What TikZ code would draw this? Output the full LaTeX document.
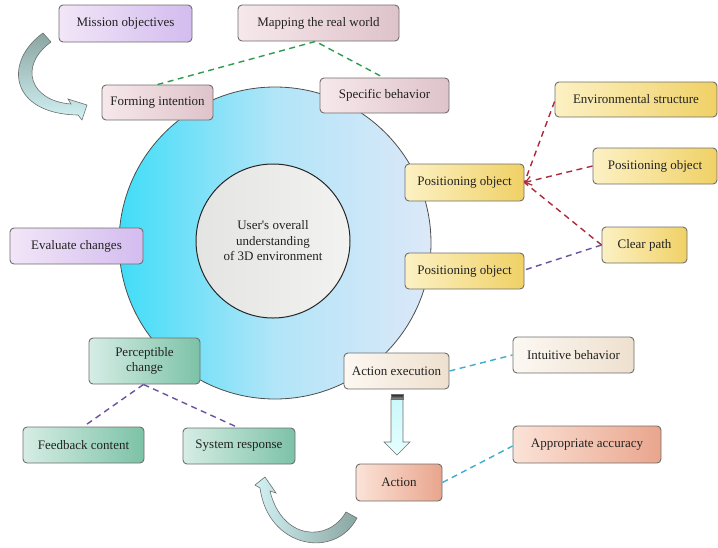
\documentclass[tikz,border=0pt]{standalone}
\usepackage{fontspec}
\setmainfont{Liberation Serif}
\usetikzlibrary{arrows.meta,calc}
\definecolor{boxline}{HTML}{6E6E6E}
\definecolor{purpL}{HTML}{F2E6F7}
\definecolor{purpR}{HTML}{D3BCEF}
\definecolor{pinkL}{HTML}{F6E8EB}
\definecolor{pinkR}{HTML}{DEC3CA}
\definecolor{yelL}{HTML}{FCF1C4}
\definecolor{yelR}{HTML}{F0D166}
\definecolor{grnL}{HTML}{D6EDE5}
\definecolor{grnR}{HTML}{7CC2A7}
\definecolor{creL}{HTML}{FCF8F2}
\definecolor{creR}{HTML}{EEE0CE}
\definecolor{salL}{HTML}{FBE3D8}
\definecolor{salR}{HTML}{E9A58C}
\definecolor{cirL}{HTML}{40DDF8}
\definecolor{cirM}{HTML}{B2E5F8}
\definecolor{cirR}{HTML}{DCE8F8}
\definecolor{inL}{HTML}{E4E4E2}
\definecolor{inR}{HTML}{F2F2F0}
\definecolor{arrG}{HTML}{8AA6A2}
\definecolor{arrC}{HTML}{D2F1F3}
\definecolor{lnGreen}{HTML}{2E9B4F}
\definecolor{lnRed}{HTML}{B0283A}
\definecolor{lnPurp}{HTML}{6C51A0}
\definecolor{lnCyan}{HTML}{3AAECC}
\definecolor{txt}{HTML}{222222}
\tikzset{
  box/.style={draw=boxline, rounded corners=4pt, line width=0.9pt, inner sep=0pt,
    align=center, font=\fontsize{13}{15.5}\selectfont, text=txt},
  purpbox/.style={box, left color=purpL, right color=purpR},
  pinkbox/.style={box, left color=pinkL, right color=pinkR},
  yelbox/.style={box, left color=yelL, right color=yelR},
  grnbox/.style={box, left color=grnL, right color=grnR},
  crebox/.style={box, left color=creL, right color=creR},
  salbox/.style={box, left color=salL, right color=salR},
  link/.style={line width=1.4pt, dash pattern=on 6pt off 4.5pt},
  curvarrow/.style={draw=boxline, line width=0.6pt},
}
\begin{document}
\begin{tikzpicture}[x=1pt,y=-1pt]
\useasboundingbox (0,0) rectangle (718,547);
% circles
\node[circle, draw=black!70, line width=0.8pt, minimum size=312pt, inner sep=0pt,
  left color=cirL, right color=cirR, middle color=cirM] (outer) at (275,243) {};
\node[circle, draw=black!85, line width=1pt, minimum size=154pt, inner sep=0pt,
  left color=inL, right color=inR, align=center, font=\fontsize{13}{15.5}\selectfont, text=txt]
  (core) at (273,241) {User\textquotesingle s overall\\understanding\\of 3D environment};
% boxes
\node[purpbox, minimum width=133pt, minimum height=37pt] (mission) at (125.5,23.5) {Mission objectives};
\node[pinkbox, minimum width=161pt, minimum height=36pt] (mapping) at (318.5,23) {Mapping the real world};
\node[pinkbox, minimum width=111pt, minimum height=35pt] (forming) at (157.5,102.5) {Forming intention};
\node[pinkbox, minimum width=129pt, minimum height=35pt] (specific) at (384.5,95.5) {Specific behavior};
\node[yelbox, minimum width=119pt, minimum height=37pt] (pos1) at (464.5,182.5) {Positioning object};
\node[yelbox, minimum width=162pt, minimum height=35pt] (env) at (636,99.5) {Environmental structure};
\node[yelbox, minimum width=124pt, minimum height=36pt] (pos2) at (655,166) {Positioning object};
\node[yelbox, minimum width=85pt, minimum height=36pt] (clear) at (644.5,245) {Clear path};
\node[yelbox, minimum width=119pt, minimum height=36pt] (pos3) at (464.5,271) {Positioning object};
\node[purpbox, minimum width=133pt, minimum height=36pt] (evaluate) at (76.5,246) {Evaluate changes};
\node[grnbox, minimum width=111pt, minimum height=46pt] (percept) at (144.5,361) {Perceptible\\change};
\node[grnbox, minimum width=121pt, minimum height=36pt] (feedback) at (83.5,445) {Feedback content};
\node[grnbox, minimum width=112pt, minimum height=36pt] (system) at (239,446) {System response};
\node[crebox, minimum width=105pt, minimum height=36pt] (actexec) at (396.5,371) {Action execution};
\node[crebox, minimum width=121pt, minimum height=36pt] (intuit) at (573.5,355) {Intuitive behavior};
\node[salbox, minimum width=148pt, minimum height=37pt] (approp) at (587,444.5) {Appropriate accuracy};
\node[salbox, minimum width=86pt, minimum height=37pt] (action) at (399,482.5) {Action};
% dashed links
\draw[link, lnGreen] (forming.north) -- ($(mapping.south)+(-3,0)$) -- ($(specific.north)+(-1,0)$);
\draw[link, lnRed] ($(env.west)+(0,2)$) -- (pos1.east);
\draw[link, lnRed, -{Straight Barb[length=6pt,width=9pt,line width=1.2pt]}] (pos2.west) -- (pos1.east);
\draw[link, lnRed] (clear.west) -- (pos1.east);
\draw[link, lnPurp] (clear.west) -- ($(pos3.east)+(0,-1)$);
\draw[link, lnPurp] ($(percept.south)+(-1,0)$) -- (feedback.north);
\draw[link, lnPurp] ($(percept.south)+(-1,0)$) -- ($(system.north)+(-1,0)$);
\draw[link, lnCyan] (actexec.east) -- (intuit.west);
\draw[link, lnCyan] (action.east) -- ($(approp.west)+(0,1.5)$);
% block arrow between action execution and action
\draw[draw=boxline, line width=0.6pt, top color=arrC!80!cyan!60, bottom color=white!90!cyan]
  (391,399) -- (403,399) -- (403,442) -- (410,442) -- (397,455) -- (384,442) -- (391,442) -- cycle;
\draw[draw=boxline, line width=0.6pt, top color=black!90, bottom color=black!40]
  (391,394) rectangle (403,399);
% curved arrow top-left
\draw[curvarrow, top color=arrG, bottom color=arrC]
  (43,33) .. controls (3,62) and (10,114) .. (78,115)
  -- (82,120) -- (87,105) -- (68,99) -- (71,104)
  .. controls (30,101) and (18,66) .. (51,42) -- cycle;
% curved arrow bottom
\draw[curvarrow, left color=arrC, right color=arrG]
  (357,518) .. controls (335,560) and (268,548) .. (260,488)
  -- (255,485) -- (265,477) -- (276,493) -- (270,491)
  .. controls (282,540) and (328,543) .. (346,512) -- cycle;
\end{tikzpicture}
\end{document}
